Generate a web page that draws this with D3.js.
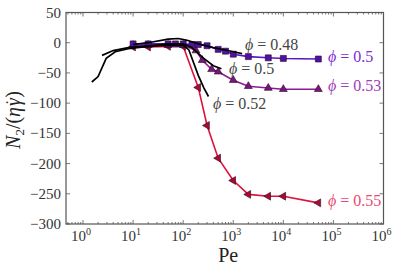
<!DOCTYPE html>
<html>
<head>
<meta charset="utf-8">
<script src="https://cdn.jsdelivr.net/npm/d3@7"></script>
<style>
  body { margin: 0; background: #fff; }
  text { font-family: 'Liberation Serif', 'DejaVu Serif', serif; }
</style>
</head>
<body>
<div class="main"></div>
<script>
// Dimensions de la figure
const width = 399;
const height = 269;
const margin = { top: 12.5, right: 15, bottom: 45, left: 66 };

// Données (Pe, N2/(eta gamma_dot))
const pe_048 = [10, 20, 50, 80, 120, 200, 400, 700, 1000, 1500];
const n2_048 = [-3, 0, 6, 7, 4, -2, -8, -12, -15, -18];

const pe_050b = [2.4, 4, 8, 20, 50, 100, 150, 250, 400, 580];
const n2_050b = [-21, -13, -8, -5, -2, -2, -8, -25, -38, -43];

const pe_052 = [1.5, 2, 2.9, 4.4, 8, 20, 50, 100, 130, 200, 260, 320];
const n2_052 = [-65, -56, -26, -15, -10, -6, -4, -4, -12, -54, -75, -89];

const pe_050 = [10, 20, 50, 70, 100, 150, 200, 300, 500, 700, 1000, 2000, 5000, 10000, 50000];
const n2_050 = [-2, -2, -2, -2, -2, -3, -3, -5, -11, -14, -19, -23, -25, -26, -27];

const pe_053 = [10, 20, 50, 100, 180, 240, 370, 500, 1000, 2000, 5000, 10000, 50000];
const n2_053 = [-4, -4, -4, -4, -13, -29, -44, -48, -62, -72, -75, -77, -77];

const pe_055 = [10, 20, 50, 100, 200, 300, 500, 1000, 2000, 5000, 10000, 50000];
const n2_055 = [-7, -7, -6, -6, -74, -137, -191, -228, -251, -254, -254, -265];

const yTicks = [50, 0, -50, -100, -150, -200, -250, -300];
const xTicks = [1, 10, 100, 1000, 10000, 100000, 1000000];

const svg = d3.select('.main')
  .append('svg')
  .attr('width', width)
  .attr('height', height);

const x = d3.scaleLog()
  .domain([0.457, 1e6])
  .range([margin.left, width - margin.right - 0.5]);

const y = d3.scaleLinear()
  .domain([-300, 50])
  .range([224, margin.top]);

const x0 = x.range()[0], x1 = x.range()[1];
const y0 = y.range()[0], y1 = y.range()[1];

// Ticks mineurs (2..9 par décade)
const minor = [];
for (let e = -1; e < 6; e++) {
  for (let k = 2; k <= 9; k++) {
    const v = k * Math.pow(10, e);
    if (v > 0.457 && v < 1e6) minor.push(v);
  }
}

const axisColor = '#555';
const ticks = svg.append('g').attr('stroke', axisColor).attr('stroke-width', 0.8);
// x ticks bas et haut
xTicks.forEach(t => {
  ticks.append('line').attr('x1', x(t)).attr('x2', x(t)).attr('y1', y0).attr('y2', y0 - 4);
  ticks.append('line').attr('x1', x(t)).attr('x2', x(t)).attr('y1', y1).attr('y2', y1 + 4);
});
minor.forEach(t => {
  ticks.append('line').attr('x1', x(t)).attr('x2', x(t)).attr('y1', y0).attr('y2', y0 - 2);
  ticks.append('line').attr('x1', x(t)).attr('x2', x(t)).attr('y1', y1).attr('y2', y1 + 2);
});
// y ticks gauche et droite
yTicks.forEach(t => {
  ticks.append('line').attr('x1', x0).attr('x2', x0 + 4).attr('y1', y(t)).attr('y2', y(t));
  ticks.append('line').attr('x1', x1).attr('x2', x1 - 4).attr('y1', y(t)).attr('y2', y(t));
});

// Cadre
svg.append('rect')
  .attr('x', x0).attr('y', y1)
  .attr('width', x1 - x0).attr('height', y0 - y1)
  .attr('fill', 'none').attr('stroke', axisColor).attr('stroke-width', 1.2);

// Étiquettes y
svg.append('g')
  .selectAll('text')
  .data(yTicks)
  .enter()
  .append('text')
  .attr('x', x0 - 5)
  .attr('y', d => y(d) + 5)
  .attr('text-anchor', 'end')
  .attr('font-size', 15)
  .attr('fill', '#333')
  .text(d => d < 0 ? '\u2212' + Math.abs(d) : d);

// Étiquettes x (10^n)
const xl = svg.append('g')
  .selectAll('text')
  .data(xTicks)
  .enter()
  .append('text')
  .attr('x', d => x(d) - 2)
  .attr('y', 241)
  .attr('text-anchor', 'middle')
  .attr('font-size', 15)
  .attr('fill', '#333');
xl.append('tspan').text('10');
xl.append('tspan').attr('dy', -6).attr('font-size', 10).text(d => Math.round(Math.log10(d)));

// Titres des axes
svg.append('text')
  .attr('x', x(1000) - 5)
  .attr('y', 262)
  .attr('text-anchor', 'middle')
  .attr('font-size', 20)
  .attr('fill', '#222')
  .text('Pe');

const yl = svg.append('text')
  .attr('transform', 'translate(20,120) rotate(-90)')
  .attr('text-anchor', 'middle')
  .attr('font-size', 20)
  .attr('fill', '#222');
yl.append('tspan').attr('font-style', 'italic').text('N');
yl.append('tspan').attr('dy', 4).attr('font-size', 13).text('2');
yl.append('tspan').attr('dy', -4).text('/(');
yl.append('tspan').attr('font-style', 'italic').text('η');
yl.append('tspan').attr('dx', 1).attr('font-style', 'italic').text('γ');
yl.append('tspan').attr('dx', -7).attr('dy', -3).attr('font-size', 16).text('\u02d9');
yl.append('tspan').attr('dx', 2).attr('dy', 3).text(')');

const line = d3.line()
  .x(d => x(d[0]))
  .y(d => y(d[1]));

function serie(pe, n2, color, stroke, symbol, rot, size, fill) {
  const pts = pe.map((p, i) => [p, n2[i]]);
  svg.append('path')
    .datum(pts)
    .attr('d', line)
    .attr('fill', 'none')
    .attr('stroke', color)
    .attr('stroke-width', stroke);
  if (symbol) {
    svg.append('g')
      .selectAll('path')
      .data(pts)
      .enter()
      .append('path')
      .attr('d', d3.symbol().type(symbol).size(size))
      .attr('transform', d => `translate(${x(d[0])},${y(d[1])}) rotate(${rot})`)
      .attr('fill', fill)
      .attr('stroke', '#2a0a20')
      .attr('stroke-width', 0.6);
  }
}

serie(pe_055, n2_055, '#e0103c', 1.6, d3.symbolTriangle, -90, 27, '#a80a35');
serie(pe_053, n2_053, '#8c1a96', 1.6, d3.symbolTriangle, 0, 27, '#7a1480');
serie(pe_050, n2_050, '#5a16c0', 1.6, d3.symbolSquare, 0, 36, '#4f12a8');
serie(pe_048, n2_048, '#000', 1.7);
serie(pe_050b, n2_050b, '#000', 1.7);
serie(pe_052, n2_052, '#000', 1.7);

// Annotations
function label(px, py, val, color) {
  const t = svg.append('text')
    .attr('x', px).attr('y', py)
    .attr('font-size', 16)
    .attr('fill', color);
  t.append('tspan').attr('font-style', 'italic').text('\u03d5');
  t.append('tspan').text(' = ' + val);
}
label(245, 50, '0.48', '#444');
label(229, 74, '0.5', '#444');
label(213, 109, '0.52', '#444');
label(328, 62, '0.5', '#7a2ed6');
label(328, 91, '0.53', '#a03cb8');
label(328, 206, '0.55', '#e84a70');
</script>
</body>
</html>
